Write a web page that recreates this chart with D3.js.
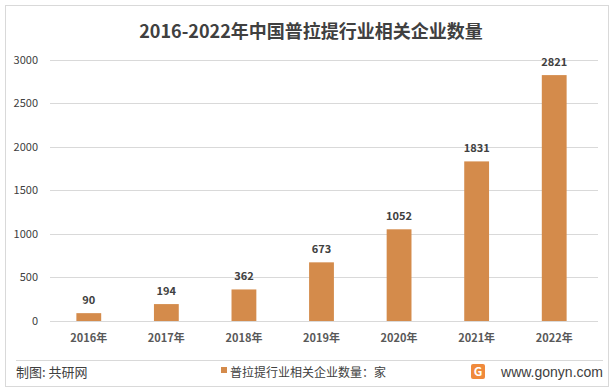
<!DOCTYPE html>
<html>
<head>
<meta charset="utf-8">
<script src="https://cdn.jsdelivr.net/npm/d3@7"></script>
<style>
  body { margin: 0; background: #fff; }
  svg { font-family: "Noto Sans CJK SC", "Noto Sans", sans-serif; }
</style>
</head>
<body>
<div id="chart"></div>
<script>
var years = ['2016年', '2017年', '2018年', '2019年', '2020年', '2021年', '2022年']
var counts = [90, 194, 362, 673, 1052, 1831, 2821]
var yTicks = [0, 500, 1000, 1500, 2000, 2500, 3000]

var W = 614, H = 392
var svg = d3.select('#chart').append('svg').attr('width', W).attr('height', H)

// outer frame
svg.append('rect')
  .attr('x', 5.5).attr('y', 5.5).attr('width', W - 11).attr('height', H - 11)
  .attr('fill', '#fff').attr('stroke', '#d9d9d9')

svg.append('text')
  .attr('x', W / 2 + 4).attr('y', 38)
  .attr('text-anchor', 'middle')
  .attr('font-size', 18).attr('font-weight', 'bold').attr('fill', '#404040')
  .text('2016-2022年中国普拉提行业相关企业数量')

var x = d3.scaleBand().domain(years).range([50, 593]).paddingInner(0.68).paddingOuter(0.34)
var y = d3.scaleLinear().domain([0, 3000]).range([321, 59.5])

// gridlines
svg.append('g').selectAll('line').data(yTicks).join('line')
  .attr('x1', 50).attr('x2', 598)
  .attr('y1', d => Math.round(y(d)) + 0.5).attr('y2', d => Math.round(y(d)) + 0.5)
  .attr('stroke', '#d9d9d9')

// y axis labels
var yAxis = d3.axisLeft(y).tickValues(yTicks).tickFormat(d3.format('d')).tickSize(0).tickPadding(0)
svg.append('g').attr('transform', 'translate(38,0)').call(yAxis)
  .call(g => g.select('.domain').remove())
  .selectAll('text').attr('font-size', 11).attr('fill', '#404040')
  .attr('font-family', '"Noto Sans CJK SC", sans-serif')

// x axis labels
var xAxis = d3.axisBottom(x).tickSize(0).tickPadding(0)
svg.append('g').attr('transform', 'translate(0,334)').call(xAxis)
  .call(g => g.select('.domain').remove())
  .selectAll('text').attr('font-size', 11).attr('font-weight', 'bold').attr('fill', '#595959')
  .attr('font-family', '"Noto Sans CJK SC", sans-serif')

// bars
svg.append('g').selectAll('rect').data(counts).join('rect')
  .attr('x', (d, i) => x(years[i]))
  .attr('width', x.bandwidth())
  .attr('y', d => y(d))
  .attr('height', d => y(0) - y(d))
  .attr('fill', '#d48b4b')

// value labels
svg.append('g').selectAll('text').data(counts).join('text')
  .attr('x', (d, i) => x(years[i]) + x.bandwidth() / 2)
  .attr('y', d => y(d) - 9)
  .attr('text-anchor', 'middle')
  .attr('font-size', 11).attr('font-weight', 'bold').attr('fill', '#404040')
  .text(d => d)

// footer separator
svg.append('line')
  .attr('x1', 16).attr('x2', 603).attr('y1', 360.5).attr('y2', 360.5)
  .attr('stroke', '#d9d9d9')

svg.append('text')
  .attr('x', 16).attr('y', 377)
  .attr('font-size', 13).attr('fill', '#404040')
  .text('制图: 共研网')

// legend
svg.append('rect').attr('x', 221).attr('y', 367).attr('width', 6).attr('height', 6).attr('fill', '#d48b4b')
svg.append('text')
  .attr('x', 230).attr('y', 377)
  .attr('font-size', 12).attr('fill', '#404040')
  .text('普拉提行业相关企业数量：家')

// site logo
var logo = svg.append('g').attr('transform', 'translate(471,364)')
logo.append('rect').attr('width', 14).attr('height', 15).attr('rx', 2).attr('fill', '#f08a3c')
logo.append('text').attr('x', 7).attr('y', 12).attr('text-anchor', 'middle')
  .attr('font-size', 12).attr('font-weight', 'bold').attr('fill', '#fff').text('G')
svg.append('text')
  .attr('x', 603).attr('y', 377).attr('text-anchor', 'end')
  .attr('font-size', 14).attr('fill', '#404040')
  .attr('font-family', '"Liberation Sans", Arial, sans-serif')
  .text('www.gonyn.com')
</script>
</body>
</html>
